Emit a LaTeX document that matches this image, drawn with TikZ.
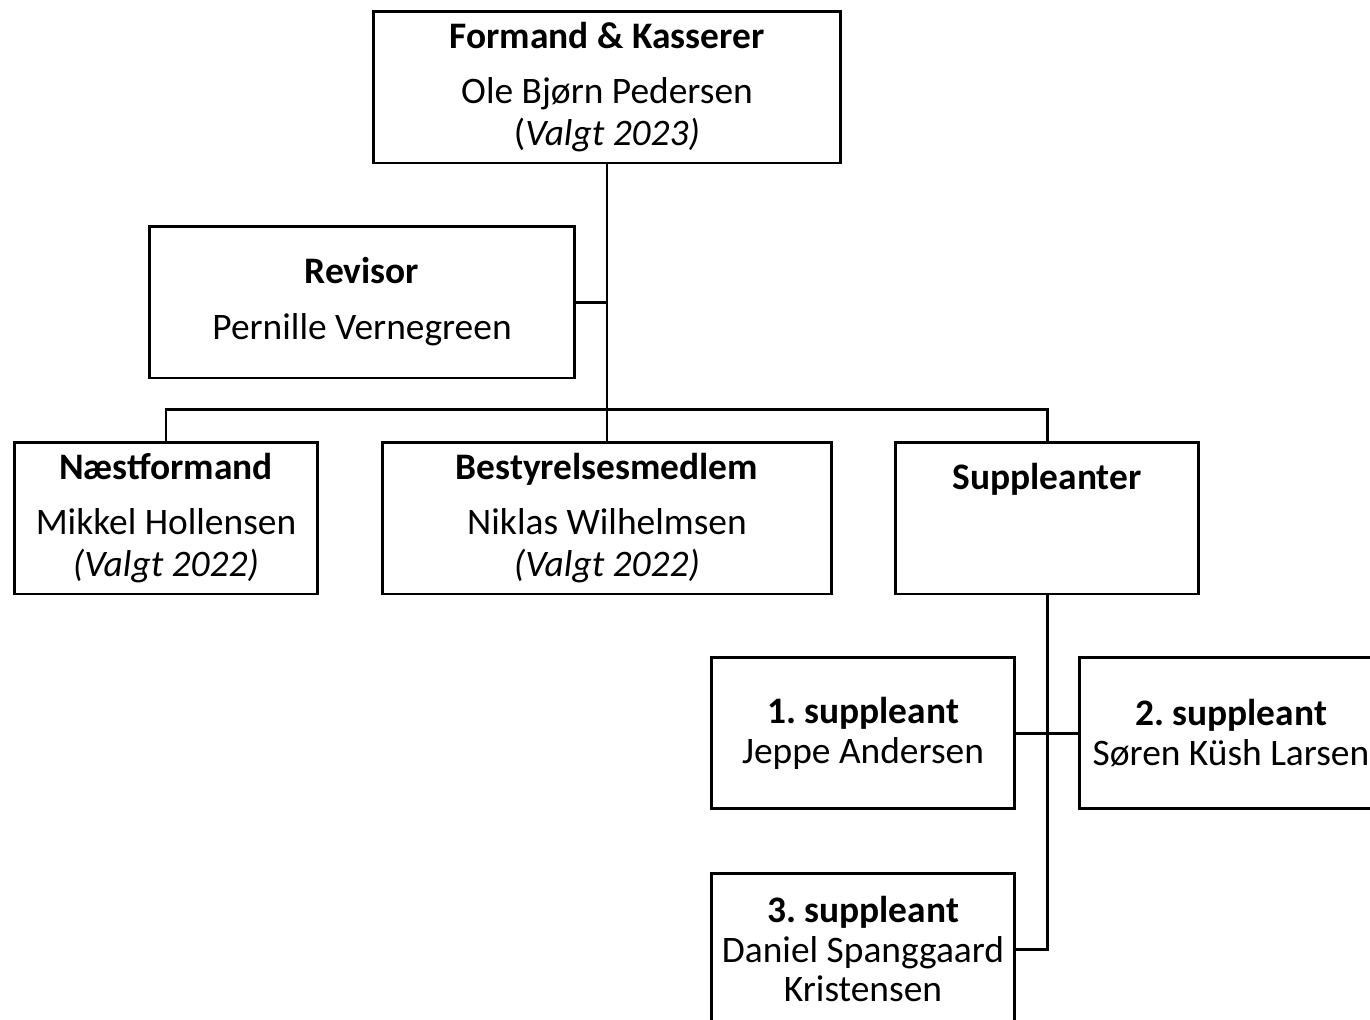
\documentclass[tikz,border=0pt]{standalone}
\usepackage{fontspec}
\setmainfont{Carlito}
\usetikzlibrary{positioning}
\frenchspacing

\begin{document}
\begin{tikzpicture}[x=0.02cm, y=-0.02cm, line width=1.7pt]
\tikzstyle{box}=[draw, rectangle, inner sep = 0 pt, align = center, minimum height = 3.04cm,
  font=\fontsize{21.3}{23.8}\selectfont]
\tikzstyle{sbox}=[box, minimum width = 6.08cm, minimum height = 3.02cm,
  font=\fontsize{21.3}{22.7}\selectfont]

\useasboundingbox (0,0) rectangle (1370,1019);
\clip (0,0) rectangle (1370,1019);

\node[box, minimum width = 9.36cm] (formand) at (607,87)
  {\textbf{Formand \& Kasserer}\\[8pt] Ole Bjørn Pedersen\\ (\textit{Valgt 2023)}};
\node[box, minimum width = 8.52cm] (revisor) at (362,302)
  {\textbf{Revisor}\\[8pt] Pernille Vernegreen};
\node[box, minimum width = 6.08cm] (naestformand) at (166,518)
  {\textbf{Næstformand}\\[8pt] Mikkel Hollensen\\ \textit{(Valgt 2022)}};
\node[box, minimum width = 8.98cm] (bestyrelse) at (607,518)
  {\textbf{Bestyrelsesmedlem}\\[8pt] Niklas Wilhelmsen\\ \textit{(Valgt 2022)}};
\node[box, minimum width = 6.08cm] (suppleanter) at (1047,518)
  {\textbf{Suppleanter}\\[-7pt] \strut\\ \strut};

\node[sbox] (supA) at (863,733) {\textbf{1. suppleant}\\ Jeppe Andersen};
\node[sbox] (supB) at (1231,733) {\textbf{2. suppleant}\\ Søren Küsh Larsen};
\node[sbox] (supC) at (863,949) {\textbf{3. suppleant}\\ Daniel Spanggaard\\ Kristensen};

\coordinate (bar) at (607,409);

% forbindelser
\draw (formand.south) -- (bestyrelse.north);
\draw (revisor.east) -- (revisor.east -| formand.south);
\draw (naestformand.north) |- (bar) -| (suppleanter.north);
\draw (suppleanter.south) |- (supC.east);
\draw (supA.east) -- (supB.west);
\end{tikzpicture}
\end{document}
